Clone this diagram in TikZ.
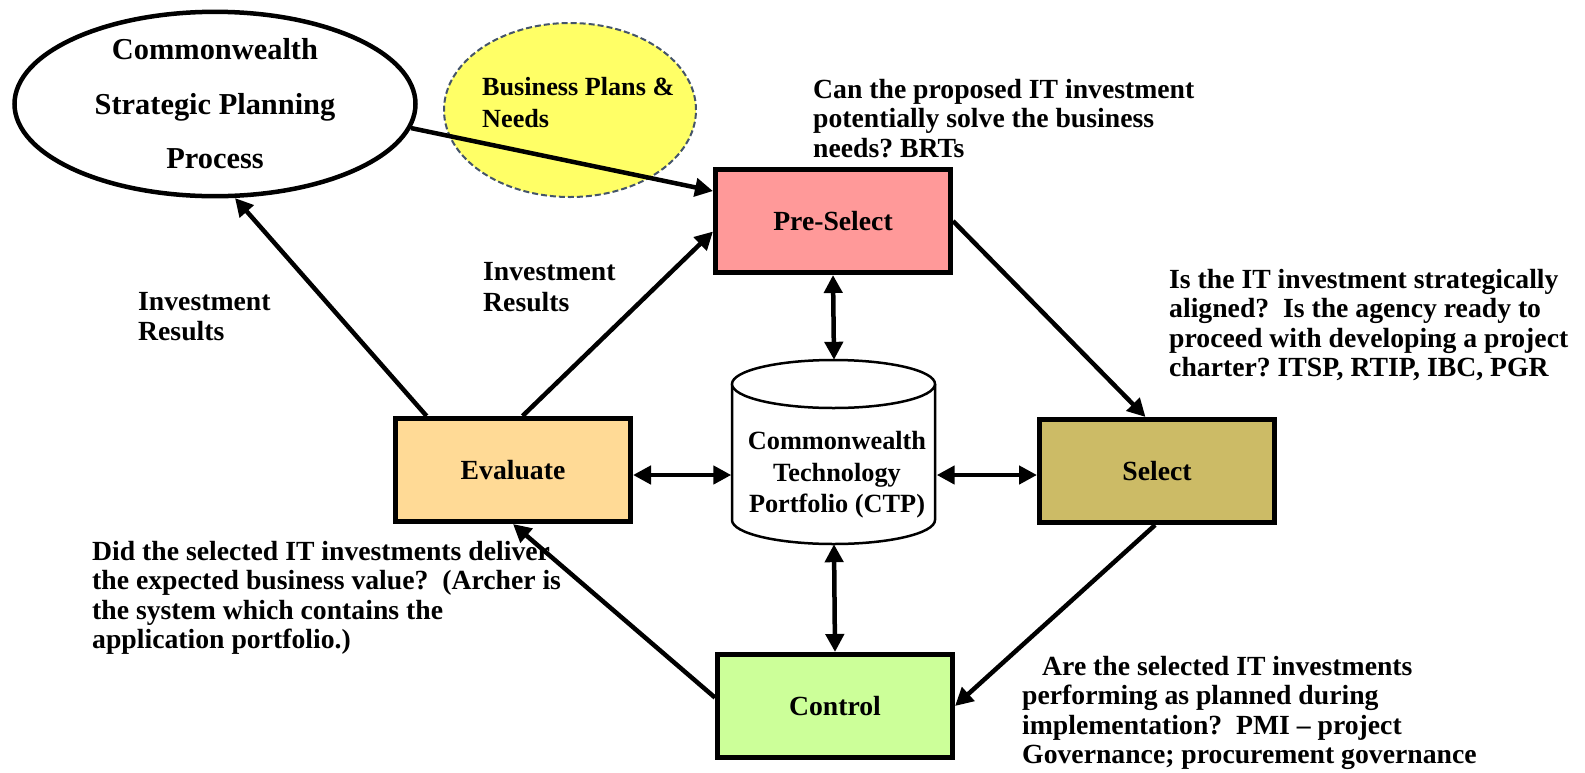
\documentclass[tikz,border=0pt]{standalone}
\usepackage{fontspec}
\setmainfont{Liberation Serif}
\usetikzlibrary{arrows.meta,shapes.geometric}
\definecolor{prec}{HTML}{FF9999}
\definecolor{evalc}{HTML}{FFDA96}
\definecolor{selc}{HTML}{CCBB66}
\definecolor{ctlc}{HTML}{CCFF99}
\definecolor{bpc}{HTML}{FFFF66}
\definecolor{dashc}{HTML}{44546A}
\frenchspacing
\begin{document}
\begin{tikzpicture}[x=1pt,y=-1pt,
  stage/.style={draw=black, line width=5pt, minimum width=235pt, minimum height=103pt, inner sep=0pt, font=\fontsize{27.7}{30}\selectfont\bfseries},
  note/.style={anchor=north west, inner sep=0pt, align=left, font=\fontsize{27.7}{29.5}\selectfont\bfseries},
  arr/.style={line width=4.5pt, -{Triangle[length=18pt,width=18pt]}},
  darr/.style={line width=4.5pt, {Triangle[length=18pt,width=18pt]}-{Triangle[length=18pt,width=18pt]}}]

\useasboundingbox (0,0) rectangle (1585,772);
\fill[white] (0,0) rectangle (1585,772);

% Strategic planning ellipse
\node[ellipse, draw, line width=4.5pt, minimum width=401pt, minimum height=184pt, inner sep=0pt, align=center,
      font=\fontsize{30.4}{54.5}\selectfont\bfseries] (sp) at (215,104) {Commonwealth\\Strategic Planning\\Process};

% Business plans bubble
\node[ellipse, draw=dashc, line width=2pt, dash pattern=on 6pt off 3pt, fill=bpc, minimum width=252pt, minimum height=174pt, inner sep=0pt] (bp) at (570,110) {};
\node[note, font=\fontsize{26.2}{32}\selectfont\bfseries] (bpt) at (482,72.6) {\strut Business Plans \&\\Needs};

% Stage boxes
\node[stage, fill=prec] (pre) at (833,221) {Pre-Select};
\node[stage, fill=evalc] (ev) at (513,470) {Evaluate};
\node[stage, fill=selc] (sel) at (1157,471) {Select};
\node[stage, fill=ctlc] (ctl) at (835,706) {Control};

% Cylinder (CTP)
\node[inner sep=0pt, minimum width=205pt, minimum height=184pt] (cyl) at (834,452) {};
\fill[white] (732,384) -- (732,520) arc[start angle=180,end angle=360,x radius=101.5pt,y radius=24pt] -- (935,384) -- cycle;
\draw[line width=2.5pt] (732,384) -- (732,520) arc[start angle=180,end angle=360,x radius=101.5pt,y radius=24pt] -- (935,384);
\filldraw[fill=white, line width=2.5pt] (833.5,384) ellipse[x radius=101.5pt, y radius=24pt];
\node[align=center, inner sep=0pt, font=\fontsize{26.3}{31.5}\selectfont\bfseries] (ctp) at (837,475) {Commonwealth\\Technology\\Portfolio (CTP)};

% Connectors
\draw[arr] (sp.-7) -- (pre.166);
\draw[arr] (ev.80) -- (pre.185);
\draw[arr] (ev.148) -- (sp.-78);
\draw[arr] (pre.east) -- (sel.102);
\draw[arr] (sel.-92) -- (ctl.east);
\draw[arr] (ctl.176) -- (ev.south);
\draw[darr] (pre.south) -- (cyl.north);
\draw[darr] (cyl.south) -- (ctl.north);
\coordinate (hy) at (0,475);
\draw[darr] (ev.east |- hy) -- (cyl.west |- hy);
\draw[darr] (cyl.east |- hy) -- (sel.west |- hy);

% Notes
\node[note] (n1) at (813,77.4) {\strut Can the proposed IT investment\\potentially solve the business\\needs? BRTs};
\node[note] (n2) at (1169,267.4) {\strut Is the IT investment strategically\\aligned?\ \ Is the agency ready to\\proceed with developing a project\\charter? ITSP, RTIP, IBC, PGR};
\node[note] (n3) at (92,539.4) {\strut Did the selected IT investments deliver\\the expected business value?\ \ (Archer is\\the system which contains the\\application portfolio.)};
\node[note] (n4) at (1022,654.4) {\strut\hspace*{20pt}Are the selected IT investments\\performing as planned during\\implementation?\ \ PMI -- project\\Governance; procurement governance};
\node[note, font=\fontsize{27.7}{30}\selectfont\bfseries] (ir1) at (138,289) {\strut Investment\\Results};
\node[note, font=\fontsize{27.7}{31}\selectfont\bfseries] (ir2) at (483,258.3) {\strut Investment\\Results};
\end{tikzpicture}
\end{document}
